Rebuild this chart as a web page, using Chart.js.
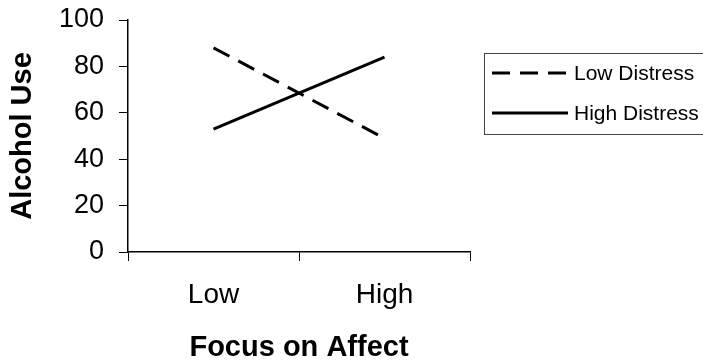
<!DOCTYPE html>
<html>
<head>
<meta charset="utf-8">
<script src="https://cdn.jsdelivr.net/npm/chart.js@4"></script>
<style>
  html, body { margin: 0; padding: 0; background: #fff; }
  #wrap { width: 703px; height: 362px; }
</style>
</head>
<body>
<div id="wrap"><canvas id="myChart" width="703" height="362"></canvas></div>
<script>
const categories = ['Low', 'High'];
const lowDistress = [88, 49];
const highDistress = [53, 84];
const seriesNames = ['Low Distress', 'High Distress'];
const yTicks = [0, 20, 40, 60, 80, 100];

const FONT = "'Liberation Sans', Arial, sans-serif";

// legend drawn in a box on the right, like the original
const boxLegend = {
    id: 'boxLegend',
    afterDraw(chart) {
        const ctx = chart.ctx;
        const left = 484, top = 53, right = 710, bottom = 134;
        ctx.save();
        ctx.strokeStyle = '#444';
        ctx.lineWidth = 1;
        ctx.strokeRect(left + 0.5, top + 0.5, right - left, bottom - top);
        const rows = [73, 113];
        chart.data.datasets.forEach((ds, i) => {
            const y = rows[i];
            ctx.beginPath();
            ctx.strokeStyle = '#000';
            ctx.lineWidth = 3;
            ctx.setLineDash(i === 0 ? [18, 10] : []);
            ctx.moveTo(492, y);
            ctx.lineTo(568, y);
            ctx.stroke();
            ctx.setLineDash([]);
            ctx.fillStyle = '#000';
            ctx.font = '21px ' + FONT;
            ctx.textBaseline = 'middle';
            ctx.textAlign = 'left';
            ctx.fillText(ds.label, 574, y + 1);
        });
        ctx.restore();
    }
};

new Chart(document.getElementById('myChart'), {
    type: 'line',
    data: {
        labels: categories,
        datasets: [{
            label: seriesNames[0],
            data: lowDistress,
            borderColor: '#000',
            borderWidth: 3,
            borderDash: [18, 10],
            pointRadius: 0,
            fill: false
        }, {
            label: seriesNames[1],
            data: highDistress,
            borderColor: '#000',
            borderWidth: 3,
            pointRadius: 0,
            fill: false
        }]
    },
    options: {
        responsive: false,
        animation: false,
        layout: { padding: { top: 20, right: 233, left: 0, bottom: 0 } },
        plugins: { legend: { display: false }, tooltip: { enabled: false } },
        scales: {
            x: {
                offset: true,
                grid: { offset: true, drawOnChartArea: false, drawTicks: true, tickLength: 9, color: '#000', lineWidth: 1 },
                border: { display: true, color: '#000', width: 1.5 },
                ticks: { color: '#000', padding: 17, font: { family: FONT, size: 28 } },
                title: { display: true, text: 'Focus on Affect', color: '#000', padding: { top: 0, bottom: 0 }, font: { family: FONT, size: 29, weight: 'bold', lineHeight: 1.0 } },
                afterFit(scale) { scale.height = 110; }
            },
            y: {
                min: 0,
                max: 100,
                afterBuildTicks(scale) { scale.ticks = yTicks.map(v => ({ value: v })); },
                grid: { drawOnChartArea: false, drawTicks: true, tickLength: 9, color: '#000', lineWidth: 1 },
                border: { display: true, color: '#000', width: 1.5 },
                ticks: { color: '#000', padding: 15, font: { family: FONT, size: 27 } },
                title: { display: true, text: 'Alcohol Use', color: '#000', padding: { top: 6, bottom: 0 }, font: { family: FONT, size: 29, weight: 'bold' } },
                afterFit(scale) { scale.width = 128; scale.paddingTop = 0; scale.paddingBottom = 0; }
            }
        }
    },
    plugins: [boxLegend]
});
</script>
</body>
</html>
